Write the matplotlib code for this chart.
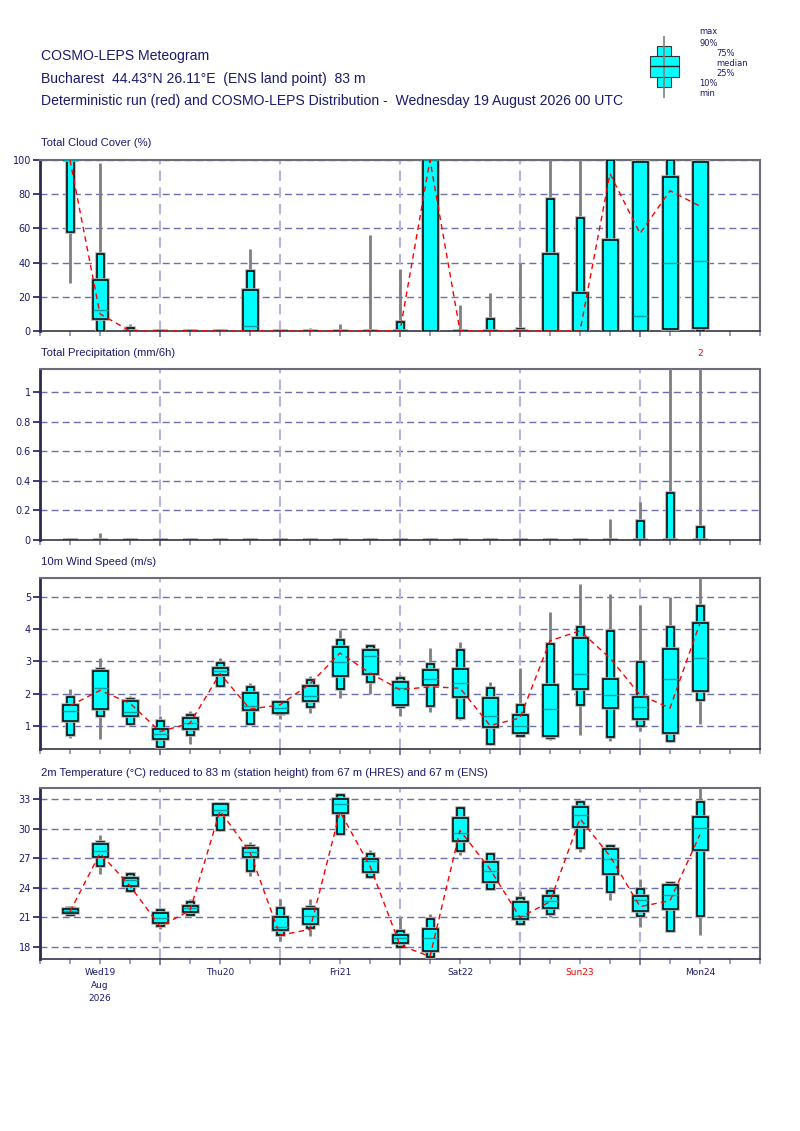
import matplotlib
matplotlib.use("Agg")
import matplotlib.pyplot as plt
import matplotlib.patheffects as pe
import matplotlib.ticker as mticker

plt.rcParams.update({
    "font.family": ["DejaVu Sans"],
    "axes.linewidth": 1.2,
})
NAVY = "#1a1a6e"
CYAN = "#00ffff"
TEAL = "#00a0a0"
GRID_H = "#6e6eaa"
GRID_V = "#b4b4de"
TICKC = "#8c8cc0"
TITLE_FONT = ["Liberation Sans Narrow", "Liberation Sans", "DejaVu Sans"]

# ── DATA ──────────────────────────────────────────────────────────────────────
# lead time in hours from Wed 19 Aug 2026 00 UTC
steps = [6, 12, 18, 24, 30, 36, 42, 48, 54, 60, 66, 72,
         78, 84, 90, 96, 102, 108, 114, 120, 126, 132]

# Total cloud cover (%)
cc_min = [28, 0, 0, 0, 0, 0, 0, 0, 0, 0, 0, 0, 0, 0, 0, 0, 0, 0, 0, 0, 0, 0]
cc_p10 = [58, 0, 0, 0, 0, 0, 0, 0, 0, 0, 0, 0, 0, 0, 0, 0, 0, 0, 0, 0, 0, 0]
cc_p25 = [100, 7, 0, 0, 0, 0, 0, 0, 0, 0, 0, 0, 0, 0, 0, 0, 0, 0, 0, 0, 1, 2]
cc_med = [100, 12, 0, 0, 0, 0, 3, 0, 0, 0, 0, 0, 100, 0, 0, 0, 0, 0, 0, 9, 40, 41]
cc_p75 = [100, 30, 0, 0, 0, 0, 24, 0, 0, 0, 0, 0, 100, 0, 0, 0, 45, 22, 53, 99, 90, 99]
cc_p90 = [100, 45, 2, 0, 0, 0, 35, 0, 0, 0, 0, 5, 100, 0, 7, 1, 77, 66, 100, 100, 100, 100]
cc_max = [100, 98, 4, 0, 0, 0, 48, 0, 2, 4, 56, 36, 100, 15, 22, 40, 100, 100, 100, 100, 100, 100]
cc_det = [100, 10, 0, 0, 0, 0, 0, 0, 0, 0, 0, 0, 100, 0, 0, 0, 0, 0, 92, 57, 82, 73]

# Total precipitation (mm/6h)
tp_min = [0] * 22
tp_p10 = [0] * 22
tp_p25 = [0] * 22
tp_med = [0] * 22
tp_p75 = [0] * 22
tp_p90 = [0, 0, 0, 0, 0, 0, 0, 0, 0, 0, 0, 0, 0, 0, 0, 0, 0, 0, 0, 0.13, 0.32, 0.09]
tp_max = [0, 0.05, 0, 0, 0, 0, 0, 0, 0, 0, 0, 0, 0, 0, 0, 0, 0, 0, 0.14, 0.26, 1.6, 2.0]
tp_det = [0] * 22

# 10 m wind speed (m/s)
ws_min = [0.62, 0.60, 0.98, 0.27, 0.43, 2.20, 1.03, 1.21, 1.39, 1.86, 1.98,
          1.29, 1.42, 1.19, 0.39, 0.65, 0.56, 0.72, 0.53, 0.85, 0.51, 1.06]
ws_p10 = [0.73, 1.30, 1.07, 0.33, 0.72, 2.24, 1.05, 1.36, 1.57, 2.15, 2.35,
          1.57, 1.62, 1.24, 0.44, 0.68, 0.62, 1.65, 0.64, 1.00, 0.53, 1.81]
ws_p25 = [1.15, 1.52, 1.30, 0.60, 0.91, 2.58, 1.49, 1.41, 1.78, 2.54, 2.61,
          1.64, 2.26, 1.89, 0.96, 0.77, 0.69, 2.13, 1.54, 1.21, 0.79, 2.07]
ws_med = [1.46, 2.17, 1.44, 0.76, 1.08, 2.71, 1.60, 1.56, 1.93, 2.98, 3.17,
          2.17, 2.45, 2.34, 1.30, 0.99, 1.52, 2.61, 1.96, 1.57, 2.44, 3.10]
ws_p75 = [1.66, 2.70, 1.77, 0.89, 1.24, 2.79, 2.03, 1.73, 2.23, 3.44, 3.36,
          2.35, 2.73, 2.76, 1.86, 1.33, 2.26, 3.72, 2.44, 1.91, 3.37, 4.18]
ws_p90 = [1.89, 2.77, 1.83, 1.15, 1.33, 2.94, 2.19, 1.75, 2.41, 3.68, 3.47,
          2.47, 2.92, 3.34, 2.16, 1.66, 3.54, 4.08, 3.93, 2.98, 4.06, 4.72]
ws_max = [2.15, 3.10, 1.93, 1.30, 1.45, 3.10, 2.33, 1.80, 2.55, 3.98, 3.52,
          2.59, 3.41, 3.59, 2.36, 2.79, 4.52, 5.40, 5.09, 4.76, 4.99, 5.59]
ws_det = [1.62, 2.10, 1.70, 0.82, 1.08, 2.62, 1.52, 1.65, 2.30, 3.26, 2.64,
          2.12, 2.21, 2.17, 1.01, 1.24, 3.64, 3.95, 3.10, 1.96, 1.55, 4.19]

# 2 m temperature (°C)
t_min = [21.2, 25.4, 23.6, 19.8, 21.3, 29.8, 25.2, 18.6, 19.1, 29.3, 25.0,
         17.9, 16.95, 27.3, 23.8, 20.2, 21.0, 27.6, 22.8, 20.0, 19.6, 19.2]
t_p10 = [21.3, 26.2, 23.7, 20.1, 21.3, 29.9, 25.7, 19.2, 19.9, 29.4, 25.1,
         18.0, 17.0, 27.7, 23.9, 20.3, 21.4, 28.0, 23.6, 21.1, 19.6, 21.1]
t_p25 = [21.5, 27.1, 24.2, 20.4, 21.6, 31.4, 27.1, 19.7, 20.3, 31.55, 25.6,
         18.4, 17.6, 28.7, 24.6, 20.8, 22.0, 30.2, 25.4, 21.7, 21.9, 27.8]
t_med = [21.7, 27.7, 24.8, 20.9, 21.95, 31.9, 27.6, 20.0, 21.1, 32.5, 26.7,
         18.9, 18.9, 29.5, 25.7, 21.2, 22.7, 31.4, 26.9, 22.8, 23.3, 30.1]
t_p75 = [21.85, 28.4, 25.0, 21.5, 22.2, 32.5, 28.0, 21.0, 21.9, 33.0, 26.9,
         19.2, 19.8, 31.1, 26.6, 22.55, 23.2, 32.2, 27.9, 23.2, 24.3, 31.2]
t_p90 = [22.0, 28.6, 25.4, 21.8, 22.55, 32.5, 28.2, 22.0, 22.1, 33.4, 27.4,
         19.6, 20.8, 32.1, 27.4, 23.0, 23.7, 32.7, 28.2, 23.9, 24.5, 32.7]
t_max = [22.2, 29.3, 25.6, 21.9, 22.9, 32.7, 28.6, 22.9, 22.9, 33.5, 27.8,
         21.0, 21.4, 32.2, 27.4, 23.7, 24.1, 32.8, 28.3, 24.9, 24.6, 34.1]
t_det = [21.6, 27.5, 24.2, 20.1, 21.7, 31.8, 27.6, 19.2, 19.8, 31.7, 26.2,
         18.2, 17.05, 29.8, 25.9, 21.0, 22.6, 31.0, 27.2, 22.1, 22.7, 29.4]

day_ticks = [12, 36, 60, 84, 108, 132]
day_names = ["Wed19\nAug\n2026", "Thu20", "Fri21", "Sat22", "Sun23", "Mon24"]
day_colors = [NAVY, NAVY, NAVY, NAVY, "red", NAVY]

# ── FIGURE ────────────────────────────────────────────────────────────────────
W, H = 800, 1131
fig = plt.figure(figsize=(W / 100, H / 100), dpi=100)


def ftext(x, y, s, **kw):
    fig.text(x / W, 1 - y / H, s, **kw)


def panel(top, bottom):
    return fig.add_axes([40 / W, 1 - bottom / H, 720 / W, (bottom - top) / H])


halo = [pe.Stroke(linewidth=2.6, foreground="#b0b0b0"), pe.Normal()]


def boxes(ax, mn, p10, p25, med, p75, p90, mx, det):
    ax.vlines(steps, mn, mx, color="#7f7f7f", lw=2, zorder=3)
    ax.bar(steps, [b - a for a, b in zip(p10, p90)], bottom=p10, width=1.4,
           color=CYAN, edgecolor="black", lw=1.1, zorder=4, path_effects=halo)
    ax.bar(steps, [b - a for a, b in zip(p25, p75)], bottom=p25, width=3.0,
           color=CYAN, edgecolor="black", lw=1.1, zorder=5, path_effects=halo)
    ax.hlines(med, [s - 1.5 for s in steps], [s + 1.5 for s in steps],
              color=TEAL, lw=1, zorder=6)
    ax.plot(steps, det, color="red", lw=1, ls=(0, (4, 3)), zorder=7)


def style(ax, ylim, yticks, fmt, title, title_y):
    ax.set_xlim(0, 144)
    ax.set_ylim(*ylim)
    ax.set_yticks(yticks)
    ax.yaxis.set_major_formatter(mticker.FuncFormatter(fmt))
    ax.set_xticks([24, 48, 72, 96, 120])
    ax.set_xticks(range(0, 145, 6), minor=True)
    ax.set_xticklabels([])
    for y in yticks:
        if y != 0:
            ax.axhline(y, color=GRID_H, lw=1, ls=(0, (5, 3)), zorder=1)
    for x in [24, 48, 72, 96, 120]:
        ax.axvline(x, color=GRID_V, lw=1.5, ls=(0, (5, 3)), zorder=1)
    ax.tick_params(axis="y", direction="out", length=5, width=1.2,
                   color=NAVY, labelcolor=NAVY, labelsize=7, pad=1.5)
    ax.tick_params(axis="x", which="both", direction="out", length=3.5,
                   width=1.2, color=TICKC)
    ax.tick_params(axis="x", which="major", color="#6a6aa0", length=4)
    ax.spines["left"].set_color("#2a2a55")
    ax.spines["left"].set_linewidth(2)
    ax.spines["bottom"].set_color("#333344")
    for s in ("top", "right"):
        ax.spines[s].set_color("#6d6d78")
        ax.spines[s].set_linewidth(1.5)
    ftext(41, title_y, title, fontsize=8.1, color=NAVY, va="center",
          family=TITLE_FONT)


def fmt_int(v, _):
    return f"{v:.0f}"


def fmt_precip(v, _):
    return "0" if v == 0 else ("1" if v == 1 else f"{v:.1f}")


# cloud cover
ax1 = panel(160, 331)
boxes(ax1, cc_min, cc_p10, cc_p25, cc_med, cc_p75, cc_p90, cc_max, cc_det)
style(ax1, (0, 100), [0, 20, 40, 60, 80, 100], fmt_int,
      "Total Cloud Cover (%)", 143)

# precipitation
ax2 = panel(369, 540)
boxes(ax2, tp_min, tp_p10, tp_p25, tp_med, tp_p75, tp_p90, tp_max, tp_det)
style(ax2, (0, 1.158), [0, 0.2, 0.4, 0.6, 0.8, 1.0], fmt_precip,
      "Total Precipitation (mm/6h)", 353)
# largest ensemble maximum is off-scale: write its value above the panel
top_i = max(range(len(tp_max)), key=lambda i: tp_max[i])
ax2.annotate(f"{tp_max[top_i]:g}", xy=(steps[top_i], 1.0),
             xycoords=ax2.get_xaxis_transform(), xytext=(0, 8),
             textcoords="offset points", color="red", fontsize=6.5,
             ha="center", va="bottom")

# wind speed
ax3 = panel(578, 749)
boxes(ax3, ws_min, ws_p10, ws_p25, ws_med, ws_p75, ws_p90, ws_max, ws_det)
style(ax3, (0.28, 5.59), [1, 2, 3, 4, 5], fmt_int, "10m Wind Speed (m/s)", 562)

# temperature
ax4 = panel(788, 959)
boxes(ax4, t_min, t_p10, t_p25, t_med, t_p75, t_p90, t_max, t_det)
style(ax4, (16.8, 34.1), [18, 21, 24, 27, 30, 33], fmt_int,
      "2m Temperature (\u00b0C) reduced to 83 m (station height) from 67 m (HRES) and 67 m (ENS)",
      773)
for x, name, c in zip(day_ticks, day_names, day_colors):
    ax4.text(x, -0.05, name, transform=ax4.get_xaxis_transform(), ha="center",
             va="top", fontsize=6.5, color=c, linespacing=1.6)

# ── HEADER ────────────────────────────────────────────────────────────────────
ftext(41, 56, "COSMO-LEPS Meteogram", fontsize=10.1, color=NAVY, va="center",
      family=TITLE_FONT)
ftext(41, 79, "Bucharest  44.43\u00b0N 26.11\u00b0E  (ENS land point)  83 m",
      fontsize=10.1, color=NAVY, va="center", family=TITLE_FONT)
ftext(41, 101, "Deterministic run (red) and COSMO-LEPS Distribution -  "
      "Wednesday 19 August 2026 00 UTC", fontsize=10.1, color=NAVY,
      va="center", family=TITLE_FONT)

# legend glyph
lg = fig.add_axes([640 / W, 1 - 100 / H, 50 / W, 66 / H])
lg.set_xlim(640, 690)
lg.set_ylim(100, 34)
lg.axis("off")
lg.vlines(664, 36, 98, color="#7f7f7f", lw=1.2)
lg.bar(664, 41, bottom=46, width=14, color=CYAN, edgecolor="#333333", lw=0.8)
lg.bar(664, 21, bottom=56, width=29, color=CYAN, edgecolor="#333333", lw=0.8)
lg.hlines(66, 649.5, 678.5, color="#222222", lw=1)
leg_labels = [("max", 699, 32), ("90%", 699, 43), ("75%", 716, 53),
              ("median", 716, 63), ("25%", 716, 74), ("10%", 699, 84),
              ("min", 699, 94)]
for s, x, y in leg_labels:
    ftext(x, y, s, fontsize=6, color=NAVY, va="center")

fig.savefig("out.png", dpi=100)
